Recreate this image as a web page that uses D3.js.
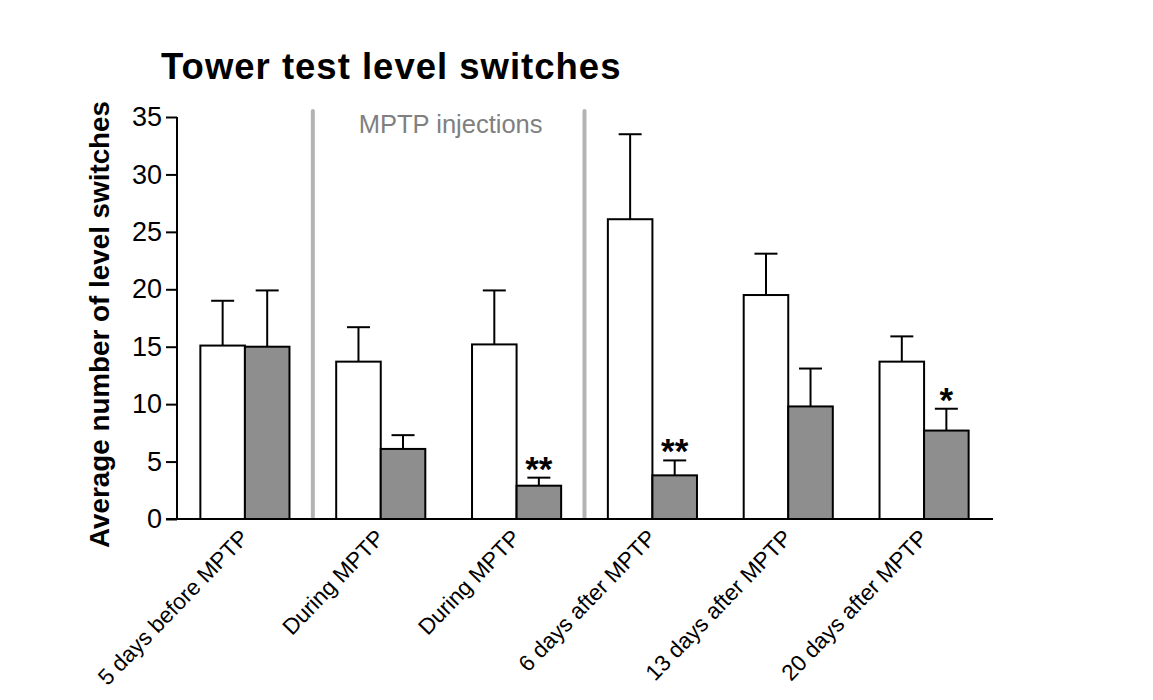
<!DOCTYPE html>
<html>
<head>
<meta charset="utf-8">
<script src="https://cdn.jsdelivr.net/npm/d3@7"></script>
<style>
  body { margin: 0; background: #fff; }
  svg { display: block; font-family: 'Liberation Sans', Arial, sans-serif; }
</style>
</head>
<body>
<div id="chart"></div>
<script>
const categories = [
  '5 days before MPTP',
  'During MPTP',
  'During MPTP',
  '6 days after MPTP',
  '13 days after MPTP',
  '20 days after MPTP',
];
const controlMeans = [15.1, 13.7, 15.2, 26.1, 19.5, 13.7];
const controlErrors = [3.9, 3.0, 4.7, 7.4, 3.6, 2.2];
const mptpMeans = [15.0, 6.1, 2.9, 3.8, 9.8, 7.7];
const mptpErrors = [4.9, 1.2, 0.7, 1.3, 3.3, 1.9];
const significance = ['', '', '**', '**', '', '*'];
const yTicks = [0, 5, 10, 15, 20, 25, 30, 35];
const separatorsBefore = [1, 3];

const WIDTH = 1153;
const HEIGHT = 700;

const svg = d3.select('#chart')
  .append('svg')
  .attr('width', WIDTH)
  .attr('height', HEIGHT);

const x = d3.scaleBand()
  .domain(d3.range(categories.length))
  .range([177, 992])
  .paddingInner(0.344)
  .paddingOuter(0.172);

const sub = d3.scaleBand()
  .domain(['control', 'mptp'])
  .range([0, x.bandwidth()]);

const y = d3.scaleLinear()
  .domain([0, 35])
  .range([519, 117]);

const groups = categories.map((name, i) => ({
  i,
  name,
  bars: [
    { key: 'control', mean: controlMeans[i], err: controlErrors[i], fill: '#ffffff' },
    { key: 'mptp', mean: mptpMeans[i], err: mptpErrors[i], fill: '#8e8e8e' },
  ],
  sig: significance[i],
}));

// separators for injection period
const sepX = (i) => x(i) - (x.step() * x.paddingInner()) / 2;
svg.append('g')
  .selectAll('line')
  .data(separatorsBefore)
  .join('line')
  .attr('x1', sepX)
  .attr('x2', sepX)
  .attr('y1', 111)
  .attr('y2', 517)
  .attr('stroke', '#b3b3b3')
  .attr('stroke-width', 4)
  .attr('stroke-linecap', 'round');

svg.append('text')
  .attr('x', (sepX(1) + sepX(3)) / 2 + 2)
  .attr('y', 133)
  .attr('text-anchor', 'middle')
  .attr('fill', '#808080')
  .style('font-size', '25.5px')
  .text('MPTP injections');

// bars
const g = svg.append('g')
  .selectAll('g')
  .data(groups)
  .join('g')
  .attr('transform', (d) => `translate(${x(d.i)},0)`);

const bar = g.selectAll('g.bar')
  .data((d) => d.bars)
  .join('g')
  .attr('class', 'bar');

bar.append('line')
  .attr('x1', (d) => sub(d.key) + sub.bandwidth() / 2)
  .attr('x2', (d) => sub(d.key) + sub.bandwidth() / 2)
  .attr('y1', (d) => y(d.mean))
  .attr('y2', (d) => y(d.mean + d.err))
  .attr('stroke', '#000')
  .attr('stroke-width', 2);

bar.append('line')
  .attr('x1', (d) => sub(d.key) + sub.bandwidth() / 2 - 11.5)
  .attr('x2', (d) => sub(d.key) + sub.bandwidth() / 2 + 11.5)
  .attr('y1', (d) => y(d.mean + d.err))
  .attr('y2', (d) => y(d.mean + d.err))
  .attr('stroke', '#000')
  .attr('stroke-width', 2);

bar.append('rect')
  .attr('x', (d) => sub(d.key))
  .attr('y', (d) => y(d.mean))
  .attr('width', sub.bandwidth())
  .attr('height', (d) => y(0) - y(d.mean))
  .attr('fill', (d) => d.fill)
  .attr('stroke', '#000')
  .attr('stroke-width', 2);

// significance stars
g.append('text')
  .attr('x', sub('mptp') + sub.bandwidth() / 2)
  .attr('y', (d) => y(d.bars[1].mean + d.bars[1].err) + 3)
  .attr('text-anchor', 'middle')
  .style('font-size', '35px')
  .style('font-weight', 'bold')
  .text((d) => d.sig);

// axes
const yAxis = d3.axisLeft(y)
  .tickValues(yTicks)
  .tickSize(11)
  .tickPadding(4);

const yAxisG = svg.append('g')
  .attr('transform', 'translate(177,0)')
  .call(yAxis);
yAxisG.select('.domain').attr('stroke-width', 2).attr('d', `M0,${y(35)}V${y(0)}`);
yAxisG.selectAll('.tick line').attr('stroke-width', 2);
yAxisG.selectAll('.tick text')
  .style('font-size', '27px')
  .style('font-family', "'Liberation Sans', Arial, sans-serif")
  .attr('fill', '#000');

svg.append('line')
  .attr('x1', 166)
  .attr('x2', 993)
  .attr('y1', y(0))
  .attr('y2', y(0))
  .attr('stroke', '#000')
  .attr('stroke-width', 2);

svg.append('g')
  .selectAll('text')
  .data(groups)
  .join('text')
  .attr('transform', (d) => `translate(${x(d.i) + x.bandwidth() / 2 + 5},${y(0) + 20}) rotate(-46)`)
  .attr('text-anchor', 'end')
  .style('font-size', '22.5px')
  .text((d) => d.name);

svg.append('text')
  .attr('transform', `translate(109,${(y(0) + y(35)) / 2 + 6.5}) rotate(-90)`)
  .attr('text-anchor', 'middle')
  .style('font-size', '27.8px')
  .style('font-weight', 'bold')
  .text('Average number of level switches');

svg.append('text')
  .attr('x', 161)
  .attr('y', 79)
  .style('font-size', '36.5px')
  .style('font-weight', 'bold')
  .style('letter-spacing', '1px')
  .text('Tower test level switches');
</script>
</body>
</html>
